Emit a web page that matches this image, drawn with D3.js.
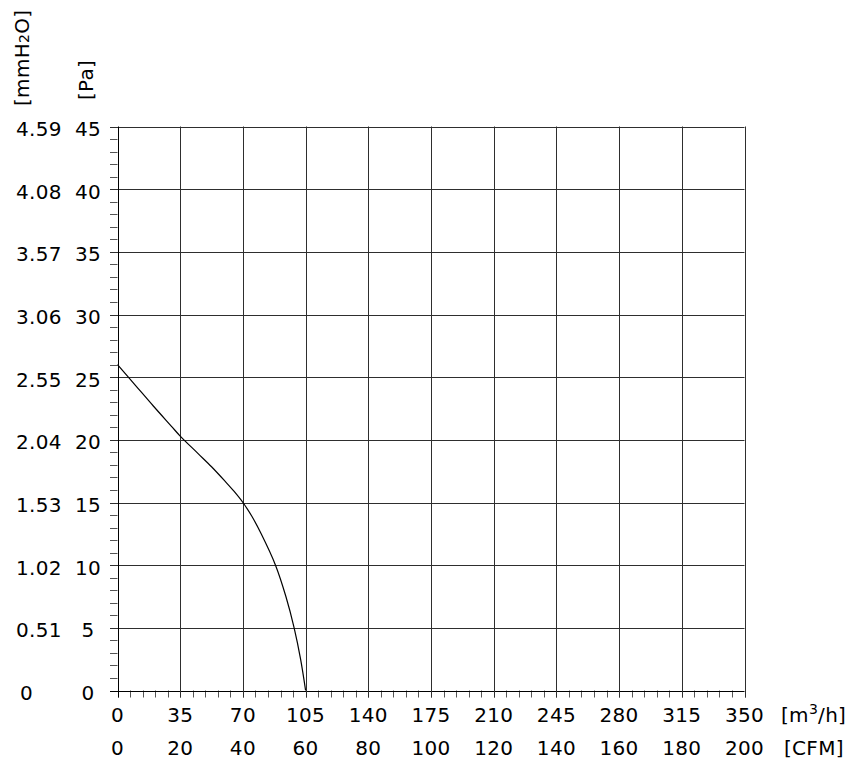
<!DOCTYPE html>
<html>
<head>
<meta charset="utf-8">
<script src="https://cdn.jsdelivr.net/npm/d3@7"></script>
<style>
  html, body { margin: 0; padding: 0; background: #fff; }
  svg { display: block; }
  text { font-family: "DejaVu Sans", Verdana, sans-serif; font-size: 20px; fill: #000; letter-spacing: 0.3px; }
</style>
</head>
<body>
<svg id="chart" width="863" height="765"></svg>
<script>
// ---- data ----
const flowTicks = [0, 35, 70, 105, 140, 175, 210, 245, 280, 315, 350];       // m3/h
const cfmTicks  = [0, 20, 40, 60, 80, 100, 120, 140, 160, 180, 200];          // CFM
const paTicks   = [0, 5, 10, 15, 20, 25, 30, 35, 40, 45];                     // Pa
const mmTicks   = ["0", "0.51", "1.02", "1.53", "2.04", "2.55", "3.06", "3.57", "4.08", "4.59"]; // mmH2O
const curveFlow = [0, 10, 20, 30, 35, 45, 52.5, 60, 65, 70, 75, 80.2, 88.2, 94.0, 98.6, 102.2, 105];
const curvePa   = [26, 24.35, 22.7, 21.1, 20.3, 18.9, 17.85, 16.7, 15.9, 15, 13.9, 12.5, 10, 7.5, 5, 2.5, 0];

// ---- layout ----
const svg = d3.select("#chart");
const x = d3.scaleLinear().domain([0, 350]).range([117.5, 744.5]);
const y = d3.scaleLinear().domain([0, 45]).range([690.5, 126.5]);

const gridColor = "#2e2e2e";
const g = svg.append("g");

// minor ticks (y, every 1 Pa, left)
g.selectAll("line.ymin").data(d3.range(0, 46)).join("line")
  .attr("x1", 110).attr("x2", x(0))
  .attr("y1", d => Math.round(y(d)) + 0.5).attr("y2", d => Math.round(y(d)) + 0.5)
  .attr("stroke", "#555").attr("stroke-width", 1);

// minor ticks (x, every 7 m3/h, down)
g.selectAll("line.xmin").data(d3.range(0, 351, 7)).join("line")
  .attr("x1", d => Math.round(x(d)) + 0.5).attr("x2", d => Math.round(x(d)) + 0.5)
  .attr("y1", y(0)).attr("y2", 697.5)
  .attr("stroke", "#555").attr("stroke-width", 1);

// horizontal gridlines
g.selectAll("line.hg").data(paTicks).join("line")
  .attr("x1", 110).attr("x2", x(350))
  .attr("y1", d => Math.round(y(d)) + 0.5).attr("y2", d => Math.round(y(d)) + 0.5)
  .attr("stroke", d => d === 0 ? "#000" : gridColor).attr("stroke-width", 1);

// vertical gridlines
g.selectAll("line.vg").data(flowTicks).join("line")
  .attr("x1", d => Math.round(x(d)) + 0.5).attr("x2", d => Math.round(x(d)) + 0.5)
  .attr("y1", y(45)).attr("y2", 697.5)
  .attr("stroke", d => d === 0 ? "#000" : gridColor).attr("stroke-width", 1);

// curve
const pts = curveFlow.map((f, i) => [f, curvePa[i]]);
svg.append("path")
  .attr("d", d3.line().x(d => x(d[0])).y(d => y(d[1])).curve(d3.curveCatmullRom.alpha(0.5))(pts))
  .attr("fill", "none").attr("stroke", "#000").attr("stroke-width", 1.2);

// y labels Pa
svg.selectAll("text.pa").data(paTicks).join("text")
  .attr("x", 88).attr("y", d => y(d) + 9.5)
  .attr("text-anchor", "middle")
  .text(d => d);

// y labels mmH2O
svg.selectAll("text.mm").data(mmTicks).join("text")
  .attr("x", d => d === "0" ? 20 : 16).attr("y", (d, i) => y(paTicks[i]) + 9.5)
  .attr("text-anchor", "start")
  .text(d => d);

// x labels m3/h
svg.selectAll("text.fl").data(flowTicks).join("text")
  .attr("x", d => x(d)).attr("y", 722)
  .attr("text-anchor", "middle")
  .text(d => d);

// x labels CFM
svg.selectAll("text.cfm").data(cfmTicks).join("text")
  .attr("x", (d, i) => x(flowTicks[i])).attr("y", 755)
  .attr("text-anchor", "middle")
  .text(d => d);

// unit labels
const u1 = svg.append("text").attr("x", 781).attr("y", 722);
u1.append("tspan").text("[m");
u1.append("tspan").attr("dy", -8).attr("font-size", "14px").text("3");
u1.append("tspan").attr("dy", 8).text("/h]");

svg.append("text").attr("x", 784).attr("y", 755).text("[CFM]");

const m1 = svg.append("text").attr("transform", "translate(29,106) rotate(-90)");
m1.append("tspan").text("[mmH");
m1.append("tspan").attr("font-size", "14px").text("2");
m1.append("tspan").text("O]");

svg.append("text").attr("transform", "translate(93,100) rotate(-90)").text("[Pa]");
</script>
</body>
</html>
